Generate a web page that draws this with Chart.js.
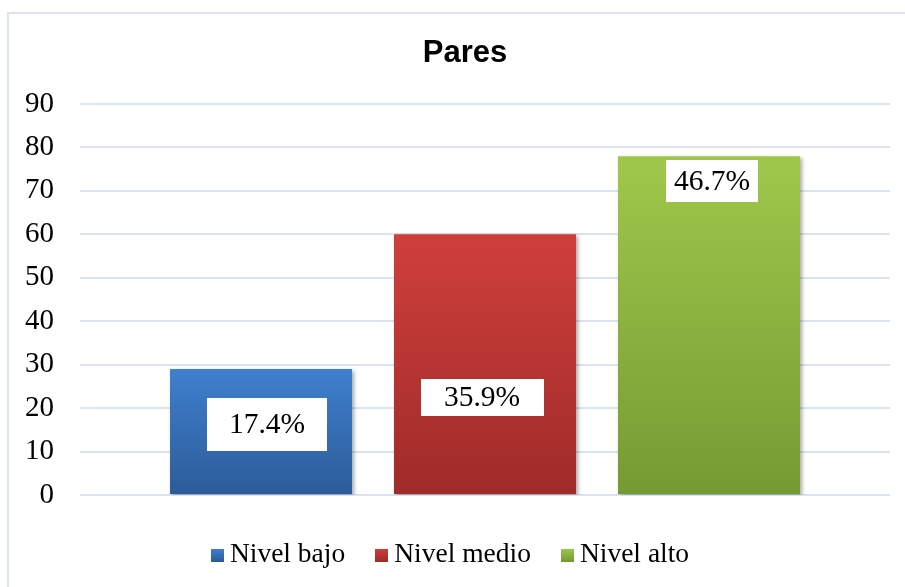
<!DOCTYPE html>
<html><head><meta charset="utf-8">
<script src="https://cdn.jsdelivr.net/npm/chart.js@4.4.0/dist/chart.umd.min.js"></script>
<style>html,body{margin:0;padding:0;background:#fff;overflow:hidden;}</style>
</head><body>
<canvas id="c" width="905" height="587" style="display:block;width:905px;height:587px"></canvas>
<script>
// ---- data ----
const chartTitle = 'Pares';
const categories = ['Pares'];
const seriesNames = ['Nivel bajo', 'Nivel medio', 'Nivel alto'];
const seriesValues = [29, 60, 78];
const percentLabels = ['17.4%', '35.9%', '46.7%'];
const yMin = 0;
const yMax = 90;
const yStep = 10;

// ---- styles ----
const gradientStops = [
  ['#3f80cf', '#2c5b98'],
  ['#cf3f3c', '#9f2b29'],
  ['#9fc84b', '#769a33']
];
const serifFont = "'Liberation Serif', 'Times New Roman', serif";
const sansFont = "'Liberation Sans', Arial, sans-serif";
const gridColor = '#d9e3f2';

function barGradient(ctx) {
  const chart = ctx.chart;
  const stops = gradientStops[ctx.datasetIndex];
  if (!chart.chartArea || !chart.scales.y) return stops[0];
  const y = chart.scales.y;
  const top = y.getPixelForValue(ctx.raw);
  const bot = y.getPixelForValue(0);
  const g = chart.ctx.createLinearGradient(0, top, 0, bot);
  g.addColorStop(0, stops[0]);
  g.addColorStop(1, stops[1]);
  return g;
}

const framePlugin = {
  id: 'frame',
  beforeDraw(chart) {
    const c = chart.ctx;
    c.save();
    c.fillStyle = '#fff';
    c.fillRect(0, 0, chart.width, chart.height);
    c.strokeStyle = gridColor;
    c.lineWidth = 2;
    c.beginPath();
    c.moveTo(8, chart.height);
    c.lineTo(8, 13);
    c.lineTo(chart.width, 13);
    c.stroke();
    c.restore();
  }
};

const titlePlugin = {
  id: 'officeTitle',
  afterDraw(chart, args, opts) {
    const c = chart.ctx;
    c.save();
    c.font = 'bold ' + opts.size + 'px ' + sansFont;
    c.fillStyle = '#000';
    c.textAlign = 'center';
    c.textBaseline = 'middle';
    c.fillText(chartTitle, opts.x, opts.y);
    c.restore();
  }
};

const shadowPlugin = {
  id: 'barShadow',
  beforeDatasetDraw(chart) {
    const c = chart.ctx;
    c.save();
    c.shadowColor = 'rgba(0,0,0,0.35)';
    c.shadowBlur = 4;
    c.shadowOffsetX = 2;
    c.shadowOffsetY = 2;
  },
  afterDatasetDraw(chart) {
    chart.ctx.restore();
  }
};

const valueBoxPlugin = {
  id: 'valueBoxes',
  afterDatasetsDraw(chart, args, opts) {
    const c = chart.ctx;
    const y = chart.scales.y;
    c.save();
    c.font = opts.size + 'px ' + serifFont;
    c.textAlign = 'center';
    c.textBaseline = 'middle';
    chart.data.datasets.forEach((ds, i) => {
      const meta = chart.getDatasetMeta(i);
      const bar = meta.data[0];
      const b = opts.boxes[i];
      const cx = bar.x + b.dx;
      const cy = y.getPixelForValue(b.at);
      c.fillStyle = '#fff';
      c.fillRect(Math.round(cx - b.w / 2), Math.round(cy - b.h / 2), b.w, b.h);
      c.fillStyle = '#000';
      c.fillText(percentLabels[i], cx, cy + 1);
    });
    c.restore();
  }
};

const legendPlugin = {
  id: 'officeLegend',
  afterDraw(chart, args, opts) {
    const c = chart.ctx;
    c.save();
    c.font = opts.size + 'px ' + serifFont;
    c.textBaseline = 'middle';
    c.textAlign = 'left';
    const widths = seriesNames.map(n => c.measureText(n).width);
    let total = 0;
    widths.forEach((w, i) => { total += opts.box + opts.gap + w + (i ? opts.itemGap : 0); });
    let x = opts.centerX - total / 2;
    const cy = opts.y;
    seriesNames.forEach((n, i) => {
      const g = c.createLinearGradient(0, cy - opts.box / 2, 0, cy + opts.box / 2);
      g.addColorStop(0, gradientStops[i][0]);
      g.addColorStop(1, gradientStops[i][1]);
      c.fillStyle = g;
      c.fillRect(Math.round(x), Math.round(cy - opts.box / 2), opts.box, opts.box);
      x += opts.box + opts.gap;
      c.fillStyle = '#000';
      c.fillText(n, x, cy);
      x += widths[i] + opts.itemGap;
    });
    c.restore();
  }
};

new Chart(document.getElementById('c'), {
  type: 'bar',
  data: {
    labels: categories,
    datasets: seriesNames.map((name, i) => ({
      label: name,
      data: [seriesValues[i]],
      backgroundColor: barGradient,
      borderWidth: 0,
      categoryPercentage: 0.8296,
      barPercentage: 0.8125
    }))
  },
  options: {
    responsive: false,
    animation: false,
    devicePixelRatio: 1,
    layout: { padding: { top: 104, left: 0, right: 15, bottom: 92 } },
    scales: {
      x: { display: false },
      y: {
        min: yMin, max: yMax,
        ticks: { stepSize: yStep, color: '#000', padding: 26, font: { family: serifFont, size: 29 } },
        grid: { color: gridColor, lineWidth: 2, drawTicks: false },
        border: { display: false },
        afterFit(scale) { scale.width = 80; }
      }
    },
    plugins: {
      legend: { display: false },
      tooltip: { enabled: false },
      title: { display: false },
      officeTitle: { size: 31, x: 465, y: 53 },
      valueBoxes: {
        size: 29.5,
        boxes: [
          { at: 16.3, dx: 6, w: 120, h: 53 },
          { at: 22.4, dx: -3, w: 123, h: 37 },
          { at: 72.3, dx: 3, w: 92, h: 42 }
        ]
      },
      officeLegend: { size: 27.5, box: 13, gap: 6, itemGap: 30, centerX: 450, y: 555 }
    }
  },
  plugins: [framePlugin, titlePlugin, shadowPlugin, valueBoxPlugin, legendPlugin]
});
</script>
</body></html>
